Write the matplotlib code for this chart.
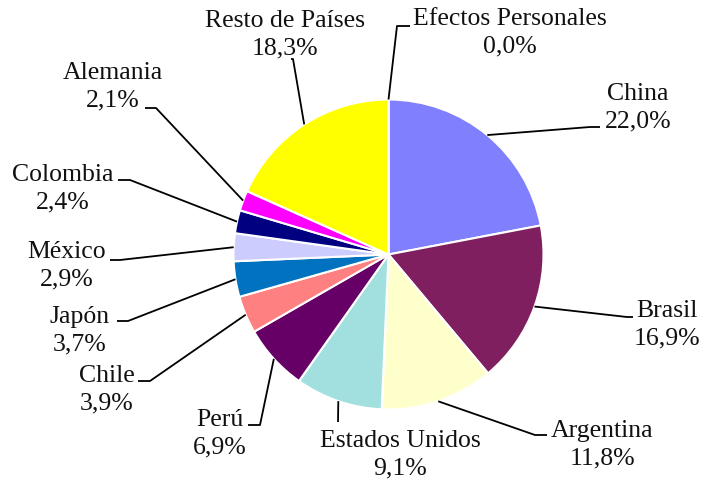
import matplotlib
matplotlib.use('Agg')

import numpy as np
import matplotlib.pyplot as plt

# -----------------------------
# DATA
# -----------------------------
paises = ["China", "Brasil", "Argentina", "Estados Unidos", "Perú", "Chile",
          "Japón", "México", "Colombia", "Alemania", "Resto de Países",
          "Efectos Personales"]
porcentajes = [22.0, 16.9, 11.8, 9.1, 6.9, 3.9, 3.7, 2.9, 2.4, 2.1, 18.3, 0.0]
colores = ["#8080FF", "#7F1F5F", "#FFFFCC", "#A2E0E0", "#660066", "#FF8080",
           "#0072C0", "#CCCCFF", "#000080", "#FF00FF", "#FFFF00", "#FFFFFF"]

# label layout in pixel coords (y down): text centre, elbow, stub end
W, H = 704, 489
texto_xy = [(638, 108), (667, 325), (602, 445), (400, 455), (220, 434),
            (107, 390), (80, 331), (67, 266), (63, 189), (113, 87),
            (285, 35), (510, 33)]
codo_xy = [(590, 128), (627, 318), (535, 436), (338, 423), (260, 426),
           (150, 382), (128, 322), (120, 261), (130, 181), (156, 109),
           (293, 60), (397, 27)]
fin_xy = [(600, 128), (633, 318), (547, 436), (338, 423), (248, 426),
          (138, 382), (117, 322), (110, 261), (118, 181), (145, 109),
          (291, 60), (410, 27)]

centro = (388.5, H - 255.5)
radio = 155


def main():
    fig = plt.figure(figsize=(W / 100, H / 100), dpi=100)
    ax = fig.add_axes([0, 0, 1, 1])

    # -----------------------------
    # PIE
    # -----------------------------
    wedges, _ = ax.pie(porcentajes, colors=colores, startangle=90,
                       counterclock=False, center=centro, radius=radio,
                       wedgeprops=dict(edgecolor="white", linewidth=1.5),
                       frame=True)

    # -----------------------------
    # LABELS + LEADER LINES
    # -----------------------------
    for i, w in enumerate(wedges):
        ang = np.deg2rad((w.theta1 + w.theta2) / 2)
        x0 = centro[0] + radio * np.cos(ang)
        y0 = centro[1] + radio * np.sin(ang)
        xs = [x0, codo_xy[i][0], fin_xy[i][0]]
        ys = [y0, H - codo_xy[i][1], H - fin_xy[i][1]]
        ax.plot(xs, ys, color="black", linewidth=1.3, solid_capstyle="butt")

        etiqueta = "%s\n%s%%" % (paises[i], ("%.1f" % porcentajes[i]).replace(".", ","))
        ax.text(texto_xy[i][0], H - texto_xy[i][1], etiqueta,
                ha="center", va="center", fontsize=18.5, linespacing=1.32,
                family="Liberation Serif", color="#111111")

    ax.set_xlim(0, W)
    ax.set_ylim(0, H)
    ax.set_aspect("equal")
    ax.axis("off")

    fig.savefig("out.png", dpi=100)
    plt.close(fig)


if __name__ == "__main__":
    main()
